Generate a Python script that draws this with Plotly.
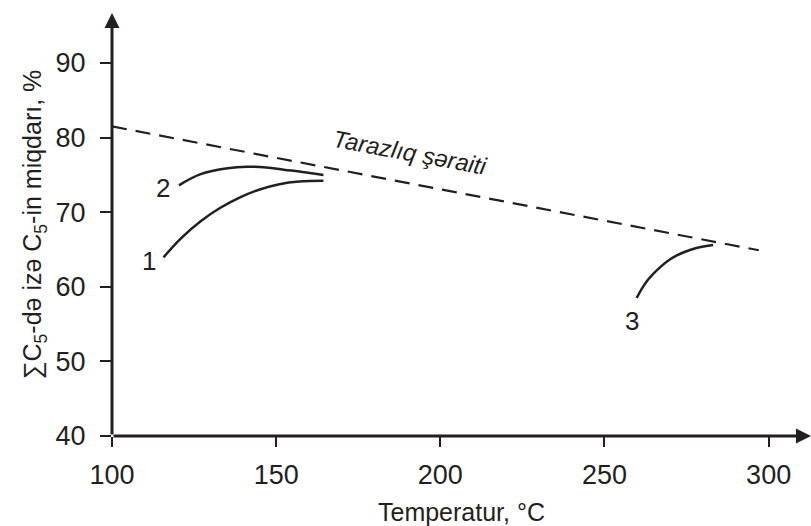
import plotly.graph_objects as go

# Data
eq_x = [100, 297]
eq_y = [81.5, 64.9]

c1_x = [115.7, 121, 127, 133, 139, 145, 151, 157, 164.4]
c1_y = [63.95, 66.5, 68.8, 70.6, 72.0, 73.05, 73.75, 74.1, 74.2]

c2_x = [120.4, 127, 135.2, 141.2, 147, 152.3, 158, 164.4]
c2_y = [73.6, 75.1, 75.9, 76.1, 76.0, 75.7, 75.4, 75.0]

c3_x = [259.8, 263, 266.9, 270, 274, 278, 283.1]
c3_y = [58.5, 60.8, 62.6, 63.7, 64.6, 65.2, 65.6]

labels = ["1", "2", "3"]
label_x = [111.3, 115.4, 258.4]
label_y = [63.5, 73.3, 55.4]

eq_text = "Tarazlıq şəraiti"
eq_text_pos = (190.9, 78.0)

x_ticks = [100, 150, 200, 250, 300]
y_ticks = [40, 50, 60, 70, 80, 90]

INK = "#231f20"
FONT = "Liberation Sans Narrow, Liberation Sans, Arial, sans-serif"

X_END = 312.9
Y_END = 96.7

fig = go.Figure()
fig.add_trace(go.Scatter(x=eq_x, y=eq_y, mode="lines",
                         line=dict(color=INK, width=2.2, dash="15px,9px"),
                         hoverinfo="skip"))
for xs, ys in [(c1_x, c1_y), (c2_x, c2_y), (c3_x, c3_y)]:
    fig.add_trace(go.Scatter(x=xs, y=ys, mode="lines",
                             line=dict(color=INK, width=2.5, shape="spline", smoothing=1.1),
                             hoverinfo="skip"))

annotations = []
for t, lx, ly in zip(labels, label_x, label_y):
    annotations.append(dict(x=lx, y=ly, text=t, showarrow=False,
                            font=dict(family=FONT, size=26, color=INK)))
annotations.append(dict(x=eq_text_pos[0], y=eq_text_pos[1], text="<i>" + eq_text + "</i>",
                        showarrow=False, textangle=10.5,
                        font=dict(family=FONT, size=24, color=INK)))
# axis arrows
annotations.append(dict(x=X_END, y=40, ax=100, ay=40, xref="x", yref="y", axref="x", ayref="y",
                        showarrow=True, arrowhead=2, arrowsize=1.0, arrowwidth=3,
                        arrowcolor=INK, text=""))
annotations.append(dict(x=100, y=Y_END, ax=100, ay=40, xref="x", yref="y", axref="x", ayref="y",
                        showarrow=True, arrowhead=2, arrowsize=1.0, arrowwidth=3,
                        arrowcolor=INK, text=""))

fig.update_layout(
    width=811, height=526,
    margin=dict(l=112, r=0, t=13, b=90),
    plot_bgcolor="white", paper_bgcolor="white",
    showlegend=False,
    annotations=annotations,
    xaxis=dict(range=[100, X_END], tickvals=x_ticks, ticks="outside", ticklen=10,
               tickwidth=1.5, tickcolor=INK, showgrid=False, zeroline=False,
               showline=False, ticklabelstandoff=5,
               tickfont=dict(family=FONT, size=27, color=INK),
               title=dict(text="Temperatur, °C", standoff=14,
                          font=dict(family=FONT, size=25, color=INK))),
    yaxis=dict(range=[40, Y_END], tickvals=y_ticks, ticks="outside", ticklen=11,
               tickwidth=1.5, tickcolor=INK, showgrid=False, zeroline=False,
               showline=False, ticklabelstandoff=9,
               tickfont=dict(family=FONT, size=27, color=INK),
               title=dict(text="∑C<sub>5</sub>-də izə C<sub>5</sub>-in miqdarı, %", standoff=6,
                          font=dict(family=FONT, size=25, color=INK))),
)

fig.write_html("out.html")
